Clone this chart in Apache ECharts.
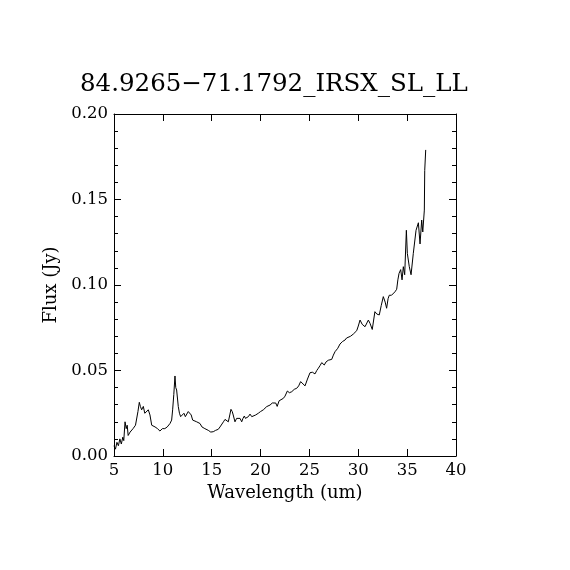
<!DOCTYPE html>
<html>
<head>
<meta charset="utf-8">
<script src="https://cdn.jsdelivr.net/npm/echarts@6/dist/echarts.min.js"></script>
<style>
  html, body { margin: 0; padding: 0; background: #fff; }
  #main { width: 570px; height: 570px; }
</style>
</head>
<body>
<div id="main"></div>
<script>
// 光谱数据：波长 (um) 与流量 (Jy)
var wavelength = [
  5.0, 5.15, 5.3, 5.45, 5.6, 5.75, 5.9, 6.0, 6.13, 6.25, 6.35, 6.45, 6.53, 6.65, 6.8, 6.95,
  7.1, 7.2, 7.32, 7.45, 7.59, 7.7, 7.83, 8.0, 8.15, 8.3, 8.51, 8.68, 8.86, 9.0, 9.2, 9.45,
  9.7, 9.95, 10.2, 10.45, 10.73, 10.9, 11.0, 11.12, 11.24, 11.32, 11.41, 11.58, 11.7, 11.82,
  12.0, 12.16, 12.3, 12.44, 12.6, 12.78, 12.9, 13.05, 13.25, 13.46, 13.6, 13.8, 14.0, 14.14,
  14.3, 14.5, 14.65, 14.9, 15.16, 15.4, 15.67, 15.85, 16.0, 16.2, 16.36, 16.5, 16.7, 16.85,
  16.97, 17.1, 17.2, 17.38, 17.55, 17.72, 17.9, 18.07, 18.2, 18.34, 18.45, 18.58, 18.75,
  18.92, 19.1, 19.26, 19.5, 19.77, 20.0, 20.28, 20.45, 20.63, 20.8, 20.97, 21.2, 21.38,
  21.55, 21.7, 21.9, 22.1, 22.33, 22.5, 22.74, 22.95, 23.19, 23.45, 23.7, 23.9, 24.1, 24.3,
  24.55, 24.8, 25.06, 25.3, 25.57, 25.75, 25.91, 26.1, 26.26, 26.52, 26.7, 26.93, 27.1,
  27.28, 27.45, 27.62, 27.9, 28.13, 28.4, 28.64, 28.8, 28.98, 29.2, 29.49, 29.65, 29.84,
  30.0, 30.18, 30.4, 30.69, 30.86, 31.03, 31.2, 31.43, 31.7, 31.9, 32.15, 32.35, 32.56,
  32.75, 32.9, 33.05, 33.17, 33.4, 33.58, 33.75, 33.93, 34.05, 34.17, 34.34, 34.48, 34.61,
  34.75, 34.92, 35.02, 35.22, 35.4, 35.63, 35.91, 36.15, 36.32, 36.49, 36.6, 36.76, 36.8, 36.9
];
var flux = [
  0.006, 0.004, 0.008, 0.006, 0.010, 0.007, 0.011, 0.009, 0.020, 0.016, 0.018, 0.012, 0.011, 0.014, 0.013, 0.016,
  0.015, 0.018, 0.019, 0.026, 0.0314, 0.029, 0.027, 0.029, 0.025, 0.026, 0.027, 0.024, 0.018, 0.019, 0.017, 0.016,
  0.0146, 0.016, 0.016, 0.017, 0.019, 0.021, 0.027, 0.036, 0.0468, 0.040, 0.0386, 0.0289, 0.025, 0.023,
  0.024, 0.025, 0.023, 0.024, 0.026, 0.026, 0.024, 0.021, 0.021, 0.020, 0.019, 0.019, 0.017, 0.016,
  0.016, 0.015, 0.015, 0.014, 0.0142, 0.015, 0.0156, 0.017, 0.018, 0.020, 0.0214, 0.021, 0.020, 0.024,
  0.0273, 0.026, 0.024, 0.020, 0.022, 0.021, 0.022, 0.020, 0.022, 0.0234, 0.022, 0.0215, 0.023,
  0.0245, 0.023, 0.023, 0.024, 0.025, 0.026, 0.027, 0.028, 0.0289, 0.029, 0.0298, 0.031, 0.0318,
  0.031, 0.029, 0.0323, 0.033, 0.0337, 0.035, 0.038, 0.037, 0.0376, 0.039, 0.0396, 0.041, 0.0435, 0.043,
  0.041, 0.045, 0.0487, 0.049, 0.048, 0.050, 0.0513, 0.053, 0.0546, 0.0532, 0.055, 0.056, 0.056,
  0.0565, 0.059, 0.061, 0.063, 0.0655, 0.067, 0.0678, 0.069, 0.070, 0.070, 0.0713, 0.072, 0.0733,
  0.076, 0.0795, 0.077, 0.0756, 0.075, 0.0795, 0.0776, 0.074, 0.0844, 0.083, 0.0825, 0.088, 0.0932,
  0.090, 0.0864, 0.092, 0.094, 0.094, 0.095, 0.096, 0.0975, 0.103, 0.1068, 0.109, 0.103, 0.1107,
  0.106, 0.132, 0.1185, 0.1107, 0.106, 0.1185, 0.132, 0.1364, 0.124, 0.138, 0.131, 0.1438, 0.167, 0.179
];
var titleText = "84.9265\u221271.1792_IRSX_SL_LL";
var xName = "Wavelength (um)";
var yName = "Flux (Jy)";

var seriesData = wavelength.map(function (w, i) {
  return [w, flux[i]];
});

var font = "DejaVu Serif";
var black = "#000";

// 坐标轴公共样式
function xAxisOf(pos, showLabel) {
  return {
    type: "value",
    position: pos,
    min: 5,
    max: 40,
    interval: 5,
    name: showLabel ? xName : "",
    nameLocation: "middle",
    nameGap: 28,
    nameTextStyle: { fontFamily: font, fontSize: 18, color: black },
    axisLine: { show: true, onZero: false, lineStyle: { color: black, width: 1 } },
    axisTick: { show: true, inside: true, length: 7, lineStyle: { color: black } },
    axisLabel: {
      show: showLabel,
      margin: 6,
      fontFamily: font,
      fontSize: 16.5,
      color: black
    },
    splitLine: { show: false }
  };
}
function yAxisOf(pos, showLabel) {
  return {
    type: "value",
    position: pos,
    min: 0,
    max: 0.2,
    interval: 0.05,
    name: showLabel ? yName : "",
    nameLocation: "middle",
    nameGap: 54,
    nameTextStyle: { fontFamily: font, fontSize: 18, color: black },
    axisLine: { show: true, onZero: false, lineStyle: { color: black, width: 1 } },
    axisTick: { show: true, inside: true, length: 7, lineStyle: { color: black } },
    minorTick: { show: true, splitNumber: 5, length: 4, lineStyle: { color: black } },
    axisLabel: {
      show: showLabel,
      margin: 6,
      fontFamily: font,
      fontSize: 16.5,
      color: black,
      formatter: function (v) { return v.toFixed(2); }
    },
    splitLine: { show: false },
    minorSplitLine: { show: false }
  };
}

var myChart = echarts.init(document.getElementById("main"));
var option = {
  backgroundColor: "#fff",
  animation: false,
  title: {
    text: titleText,
    left: 75,
    top: 67,
    textStyle: { fontFamily: font, fontSize: 24.5, fontWeight: "normal", color: black }
  },
  grid: { left: 114, top: 114, width: 342, height: 342, containLabel: false },
  xAxis: [xAxisOf("bottom", true), xAxisOf("top", false)],
  yAxis: [yAxisOf("left", true), yAxisOf("right", false)],
  series: [
    {
      type: "line",
      data: seriesData,
      symbol: "none",
      lineStyle: { color: black, width: 1 },
      xAxisIndex: 0,
      yAxisIndex: 0
    }
  ]
};
myChart.setOption(option);
</script>
</body>
</html>
